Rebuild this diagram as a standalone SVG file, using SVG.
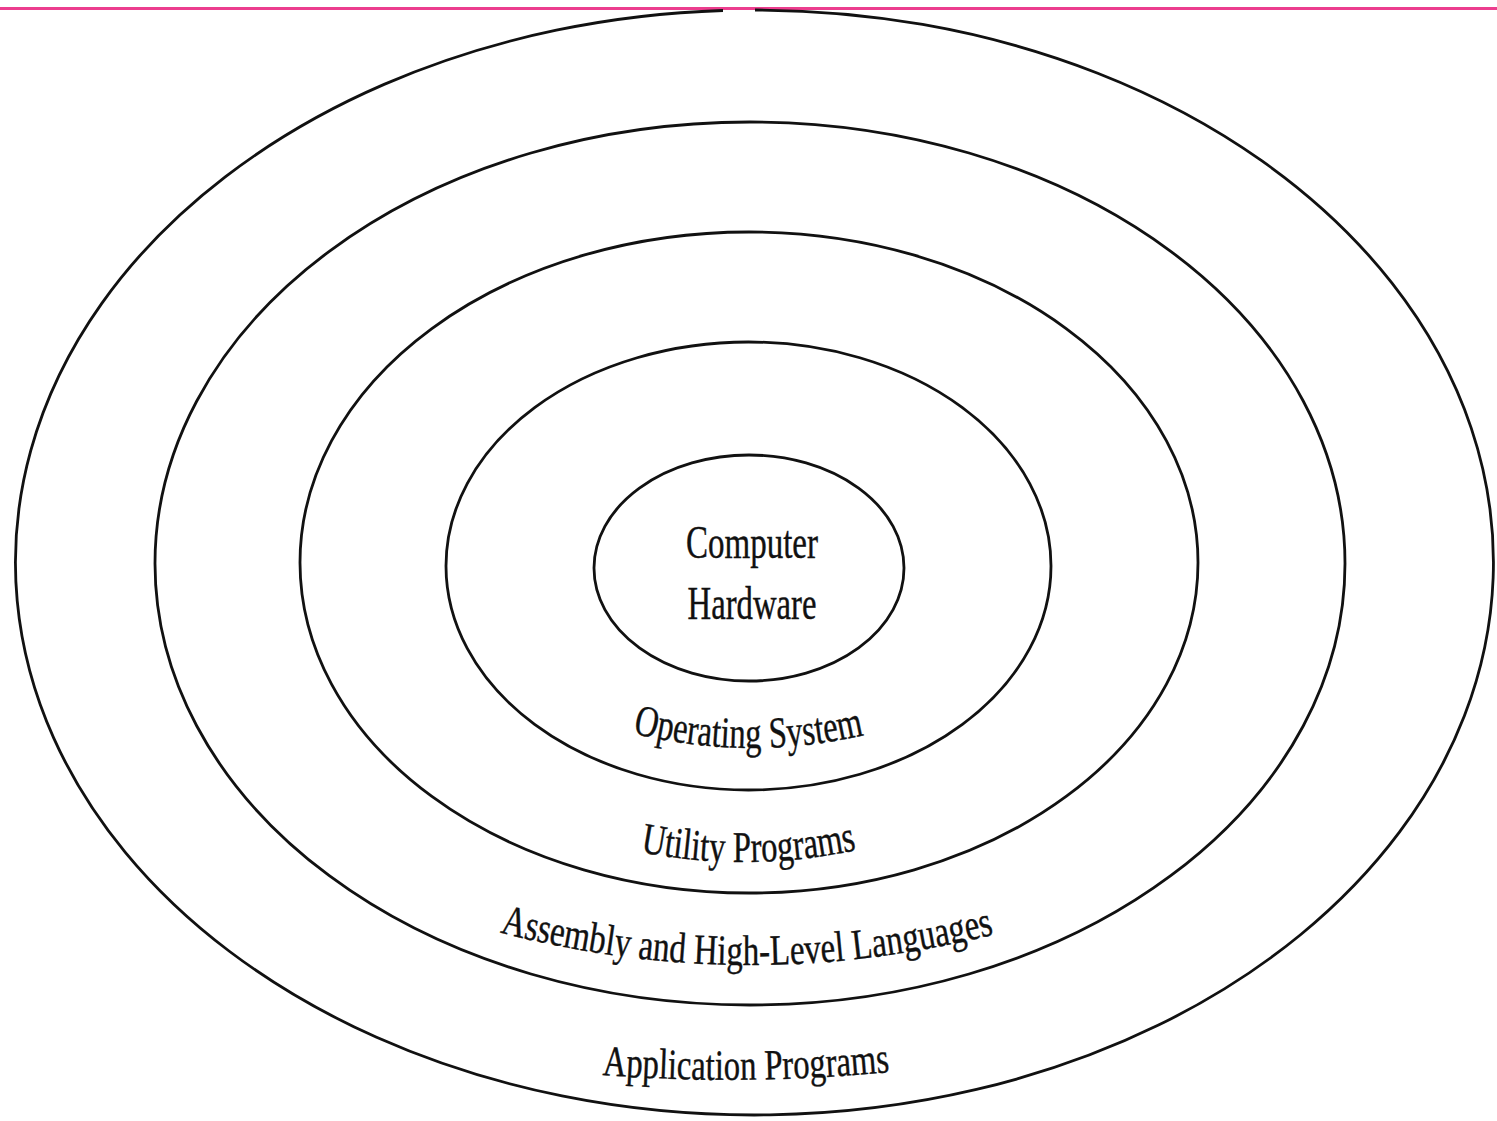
<svg xmlns="http://www.w3.org/2000/svg" xmlns:xlink="http://www.w3.org/1999/xlink" width="1497" height="1121" viewBox="0 0 1497 1121">
<style>
.ring{fill:none;stroke:#111;stroke-width:2.8}
.lbl{font-family:"Liberation Serif","Times New Roman",serif;fill:#111;stroke:#111;stroke-width:0.4}
</style>
<defs>
<path id="pOS" d="M632,733 Q748,762 865,735"/>
<path id="pUP" d="M640,852 Q748,873 857,850"/>
<path id="pAL" d="M502,933 Q746,996 992,935"/>
<path id="pAP" d="M602,1075 Q746,1086 890,1072"/>
</defs>
<rect width="1497" height="1121" fill="#fff"/>
<line x1="0" y1="8.5" x2="1497" y2="8.5" stroke="#ec3d8e" stroke-width="3"/>
<g id="ring-application">
<path class="ring" d="M723,10.5 A739,552.5 0 1 0 755,10"/>
<text class="lbl" font-size="43"><textPath xlink:href="#pAP" href="#pAP" startOffset="50%" text-anchor="middle" textLength="288" lengthAdjust="spacingAndGlyphs">Application Programs</textPath></text>
</g>
<g id="ring-languages">
<ellipse class="ring" cx="750" cy="563.5" rx="595" ry="441.5"/>
<text class="lbl" font-size="43"><textPath xlink:href="#pAL" href="#pAL" startOffset="50%" text-anchor="middle" textLength="500" lengthAdjust="spacingAndGlyphs">Assembly and High-Level Languages</textPath></text>
</g>
<g id="ring-utility">
<ellipse class="ring" cx="749" cy="562.5" rx="449" ry="330.5"/>
<text class="lbl" font-size="44"><textPath xlink:href="#pUP" href="#pUP" startOffset="50%" text-anchor="middle" textLength="218" lengthAdjust="spacingAndGlyphs">Utility Programs</textPath></text>
</g>
<g id="ring-os">
<ellipse class="ring" cx="748.5" cy="566" rx="302.5" ry="224"/>
<text class="lbl" font-size="44"><textPath xlink:href="#pOS" href="#pOS" startOffset="50%" text-anchor="middle" textLength="234" lengthAdjust="spacingAndGlyphs">Operating System</textPath></text>
</g>
<g id="core-hardware">
<ellipse class="ring" cx="749" cy="568" rx="155" ry="113"/>
<text class="lbl" font-size="46" x="752" y="558" text-anchor="middle" textLength="132" lengthAdjust="spacingAndGlyphs">Computer</text>
<text class="lbl" font-size="46" x="752" y="619" text-anchor="middle" textLength="129" lengthAdjust="spacingAndGlyphs">Hardware</text>
</g>
<g id="connectors"></g>
</svg>
